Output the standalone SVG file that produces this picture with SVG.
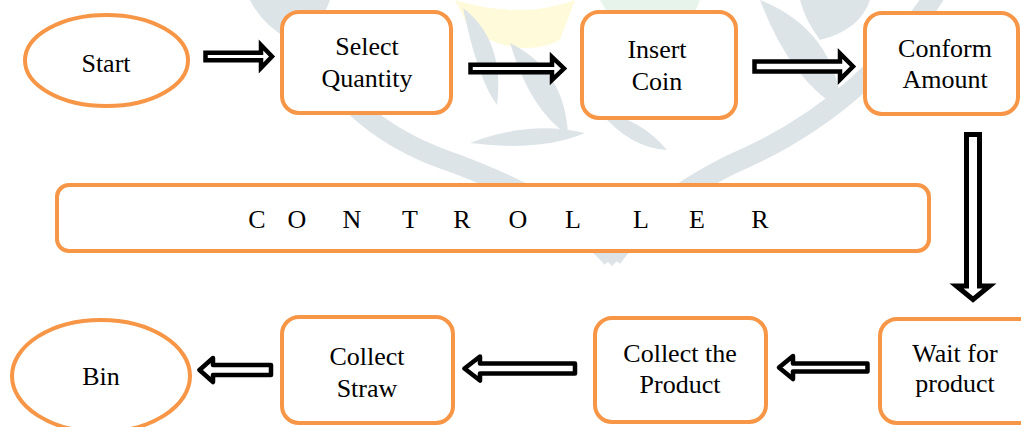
<svg xmlns="http://www.w3.org/2000/svg" width="1021" height="427" viewBox="0 0 1021 427">
<style>
.box{fill:#fff;stroke:#F79646;stroke-width:4}
.lbl{font-family:"Liberation Serif","Times New Roman",serif;font-size:26px;fill:#000;text-anchor:middle}
.arr{fill:#fff;stroke:#000;stroke-width:4.5;stroke-linejoin:miter}
.arrL{fill:#fff;stroke:#000;stroke-width:4.5;stroke-linejoin:round}
.wm{fill:#DDE4E8;stroke:none}
.wmb{fill:none;stroke:#DDE4E8;stroke-width:20}
</style>
<rect x="0" y="0" width="1021" height="427" fill="#fff"/>
<g id="watermark">
<path d="M455 0 Q520 20 575 0 L560 40 Q520 60 470 30 Z" fill="#FFFBDA"/>
<path d="M600 0 L700 0 Q690 30 650 35 Q615 30 600 0 Z" fill="#E6F4EC"/>
<path class="wmb" d="M287 -5 Q325 115 440 158 Q560 200 612 258"/>
<path class="wmb" d="M935 -5 Q860 110 730 165 Q650 205 612 258"/>
<polygon class="wm" points="596,250 628,250 612,266"/>
<path class="wm" d="M463 8 Q505 40 497 105 Q478 80 463 8 Z"/>
<path class="wm" d="M510 43 Q565 70 568 135 Q530 110 510 43 Z"/>
<path class="wm" d="M470 143 Q530 120 585 133 Q540 152 470 143 Z"/>
<path class="wm" d="M760 0 Q835 30 842 110 Q790 80 760 0 Z"/>
<path class="wm" d="M600 112 Q640 118 667 150 Q630 148 600 112 Z"/>
<path class="wm" d="M250 0 L330 0 Q320 30 290 40 Q262 25 250 0 Z"/>
<path class="wm" d="M800 0 L870 0 Q860 30 820 40 Q805 20 800 0 Z"/>
</g>
<g id="connectors">
<polygon class="arr" points="205.5,52.7 261,52.7 261,45 272,56.5 261,68 261,60.3 205.5,60.3"/>
<polygon class="arr" points="470.5,64.7 552,64.7 552,57 564,68.5 552,80 552,72.3 470.5,72.3"/>
<polygon class="arr" points="754.5,61.5 840,61.5 840,53.5 853,66.5 840,79.5 840,71.5 754.5,71.5"/>
<polygon class="arr" style="stroke-width:5" points="966.5,134.5 979.5,134.5 979.5,286 989.5,286 973,299.5 956.5,286 966.5,286"/>
<polygon class="arrL" points="867.5,363.5 793,363.5 793,356 779,367.5 793,379 793,371.5 867.5,371.5"/>
<polygon class="arrL" points="575,363.5 480,363.5 480,356.5 464.5,368.5 480,380.5 480,373.5 575,373.5"/>
<polygon class="arrL" points="271,365 213,365 213,358 199.5,370 213,382 213,375 271,375"/>
</g>
<g id="start">
<ellipse class="box" cx="106.5" cy="60.5" rx="81.5" ry="45.5"/>
<text class="lbl" x="106" y="72">Start</text>
</g>
<g id="select-quantity">
<rect class="box" x="282" y="12" width="169" height="101" rx="17"/>
<text class="lbl" x="367" y="55">Select</text>
<text class="lbl" x="367" y="87">Quantity</text>
</g>
<g id="insert-coin">
<rect class="box" x="582" y="12" width="154" height="106" rx="17"/>
<text class="lbl" x="657" y="58">Insert</text>
<text class="lbl" x="657" y="90">Coin</text>
</g>
<g id="conform-amount">
<rect class="box" x="865" y="13" width="153" height="101" rx="17"/>
<text class="lbl" x="945" y="57">Conform</text>
<text class="lbl" x="945" y="88">Amount</text>
</g>
<g id="controller">
<rect class="box" x="57" y="185" width="872" height="66" rx="12"/>
<text class="lbl" y="228" x="257 276 297 324 352 381 410 436 462 490 518 545 573 607 641 669 697 730 760">C O N T R O L L E R</text>
</g>
<g id="wait-for-product">
<rect class="box" x="880" y="319" width="160" height="104" rx="17"/>
<text class="lbl" x="955" y="362">Wait for</text>
<text class="lbl" x="955" y="392">product</text>
</g>
<g id="collect-product">
<rect class="box" x="595" y="318" width="171" height="104" rx="17"/>
<text class="lbl" x="680" y="362">Collect the</text>
<text class="lbl" x="680" y="393">Product</text>
</g>
<g id="collect-straw">
<rect class="box" x="282" y="317" width="171" height="106" rx="17"/>
<text class="lbl" x="367" y="365">Collect</text>
<text class="lbl" x="367" y="397">Straw</text>
</g>
<g id="bin">
<ellipse class="box" cx="101" cy="376" rx="89" ry="56"/>
<text class="lbl" x="101" y="385">Bin</text>
</g>
</svg>
